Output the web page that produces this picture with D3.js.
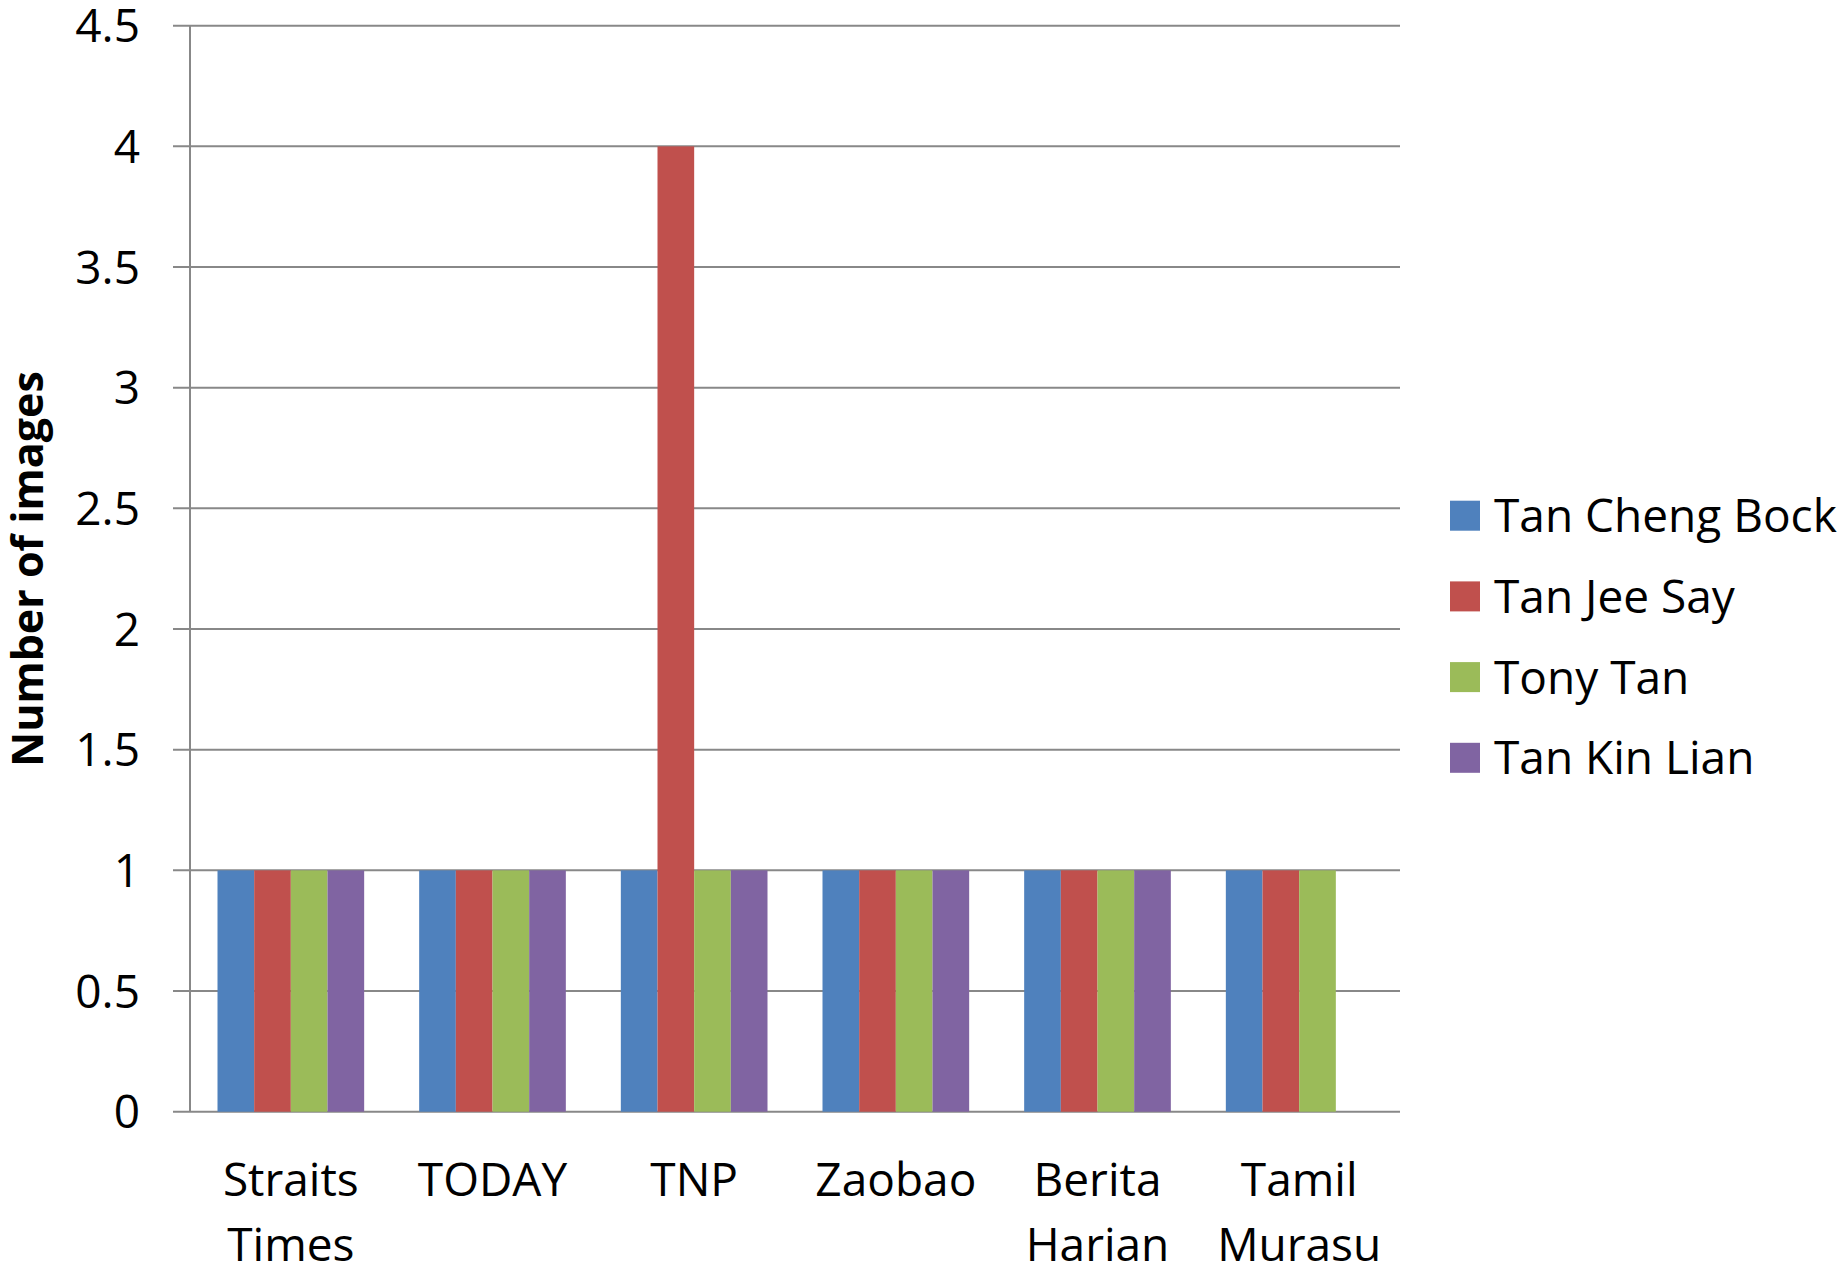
<!DOCTYPE html>
<html><head><meta charset="utf-8">
<script src="https://cdn.jsdelivr.net/npm/d3@7"></script>
<style>body{margin:0;background:#fff}svg{display:block}</style>
</head><body>
<script>
const categories = [["Straits","Times"],["TODAY"],["TNP"],["Zaobao"],["Berita","Harian"],["Tamil","Murasu"]];
const seriesNames = ["Tan Cheng Bock","Tan Jee Say","Tony Tan","Tan Kin Lian"];
const seriesColors = ["#4F81BD","#C0504D","#9BBB59","#8064A2"];
const values = [
  [1,1,1,1,1,1],   // Tan Cheng Bock
  [1,1,4,1,1,1],   // Tan Jee Say
  [1,1,1,1,1,1],   // Tony Tan
  [1,1,1,1,1,0]    // Tan Kin Lian
];
const yTicks = [0,0.5,1,1.5,2,2.5,3,3.5,4,4.5];

(function(){
const W=1845,H=1268;
const FONT = "'Open Sans', 'Noto Sans', sans-serif";
const FS = 46;
const svg = d3.select("body").append("svg").attr("width",W).attr("height",H);
const pL=190,pR=1400,pT=25.7,pB=1111.7;
const catIdx = d3.range(categories.length);
const x0 = d3.scaleBand().domain(catIdx).range([pL,pR]);
const bw = x0.bandwidth()/5.5;
const x1 = d3.scaleBand().domain(d3.range(seriesNames.length)).range([bw*0.75, bw*4.75]);
const y = d3.scaleLinear().domain([0,4.5]).range([pB,pT]);

svg.append("g").selectAll("line").data(yTicks).join("line")
  .attr("x1",pL-17).attr("x2",pR).attr("y1",d=>y(d)).attr("y2",d=>y(d))
  .attr("stroke","#888").attr("stroke-width",2);

const groups = svg.append("g").selectAll("g").data(catIdx).join("g")
  .attr("transform",i=>`translate(${x0(i)},0)`);
groups.selectAll("rect").data(i=>seriesNames.map((s,k)=>({k,v:values[k][i]}))).join("rect")
  .attr("x",d=>x1(d.k)).attr("width",x1.bandwidth())
  .attr("y",d=>y(d.v)).attr("height",d=>y(0)-y(d.v))
  .attr("fill",d=>seriesColors[d.k]);

svg.append("line").attr("x1",pL).attr("x2",pL).attr("y1",pT).attr("y2",pB)
  .attr("stroke","#888").attr("stroke-width",2);

svg.append("g").selectAll("text").data(yTicks).join("text")
  .attr("x",140).attr("y",d=>y(d)).attr("dy","0.36em")
  .attr("text-anchor","end").attr("font-family",FONT).attr("font-size",FS)
  .text(d=>d3.format("~g")(d));

const xl = svg.append("g").selectAll("text").data(catIdx).join("text")
  .attr("text-anchor","middle").attr("font-family",FONT).attr("font-size",FS)
  .attr("transform",i=>`translate(${x0(i)+x0.bandwidth()/2},1196)`);
xl.selectAll("tspan").data(i=>categories[i]).join("tspan")
  .attr("x",0).attr("y",(d,j)=>j*64.6).text(d=>d);

svg.append("text").attr("transform","translate(43,569) rotate(-90)")
  .attr("text-anchor","middle").attr("font-family",FONT).attr("font-size",43)
  .attr("font-weight","bold").text("Number of images");

const lg = svg.append("g").selectAll("g").data(seriesNames).join("g")
  .attr("transform",(d,k)=>`translate(1450,${515.7+k*80.7})`);
lg.append("rect").attr("x",0).attr("y",-15).attr("width",30).attr("height",30)
  .attr("fill",(d,k)=>seriesColors[k]);
lg.append("text").attr("x",44).attr("dy","0.36em").attr("font-family",FONT)
  .attr("font-size",FS).text(d=>d);
})();
</script>
</body></html>
